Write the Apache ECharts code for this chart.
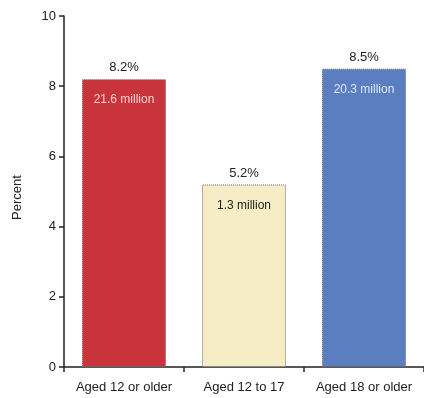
<!DOCTYPE html>
<html>
<head>
<meta charset="utf-8">
<script src="https://cdn.jsdelivr.net/npm/echarts@6/dist/echarts.min.js"></script>
<style>
  html, body { margin: 0; padding: 0; background: #fff; }
  #chart { width: 424px; height: 398px; }
</style>
</head>
<body>
<div id="chart"></div>
<script>
// Past-month use, by age group
const categories = ['Aged 12 or older', 'Aged 12 to 17', 'Aged 18 or older'];
const percentValues = [8.2, 5.2, 8.5];
const millionsLabels = ['21.6 million', '1.3 million', '20.3 million'];
const barColors = ['#c9333b', '#f6edc6', '#5a7ebf'];
const innerLabelColors = ['#f3d6d3', '#222222', '#dfe6f3'];
const yTicks = [0, 2, 4, 6, 8, 10];

const FONT = "'Liberation Sans', Arial, sans-serif";

const chart = echarts.init(document.getElementById('chart'), null, { renderer: 'canvas' });

chart.setOption({
  animation: false,
  grid: { left: 64, right: 0, top: 16, bottom: 31, outerBoundsMode: 'none', containLabel: false },
  xAxis: {
    type: 'category',
    data: categories,
    axisLine: { lineStyle: { color: '#222', width: 1.5 } },
    axisTick: { show: true, length: 5, lineStyle: { color: '#222', width: 1.5 } },
    axisLabel: { color: '#222', fontFamily: FONT, fontSize: 13, margin: 14, interval: 0, hideOverlap: false }
  },
  yAxis: {
    type: 'value',
    min: yTicks[0],
    max: yTicks[yTicks.length - 1],
    interval: 2,
    name: 'Percent',
    nameLocation: 'middle',
    nameGap: 40,
    nameTextStyle: { color: '#222', fontFamily: FONT, fontSize: 13, padding: [0, 12, 0, 0] },
    axisLine: { show: true, lineStyle: { color: '#222', width: 1.5 } },
    axisTick: { show: true, length: 5, lineStyle: { color: '#222', width: 1.5 } },
    axisLabel: { color: '#222', fontFamily: FONT, fontSize: 13, margin: 8 },
    splitLine: { show: false }
  },
  series: [
    {
      type: 'bar',
      barWidth: '70%',
      data: percentValues.map((v, i) => ({
        value: v,
        itemStyle: { color: barColors[i], borderColor: '#6a6a6a', borderWidth: 1, borderType: 'dotted' }
      })),
      label: {
        show: true,
        position: 'top',
        distance: 5,
        formatter: p => p.value.toFixed(1) + '%',
        color: '#222',
        fontFamily: FONT,
        fontSize: 13
      }
    },
    {
      type: 'bar',
      barWidth: '70%',
      barGap: '-100%',
      silent: true,
      data: percentValues.map((v, i) => ({
        value: v,
        itemStyle: { color: 'rgba(0,0,0,0)' },
        label: { color: innerLabelColors[i] }
      })),
      label: {
        show: true,
        position: 'insideTop',
        distance: 15,
        formatter: p => millionsLabels[p.dataIndex],
        fontFamily: FONT,
        fontSize: 12
      }
    }
  ]
});
</script>
</body>
</html>
